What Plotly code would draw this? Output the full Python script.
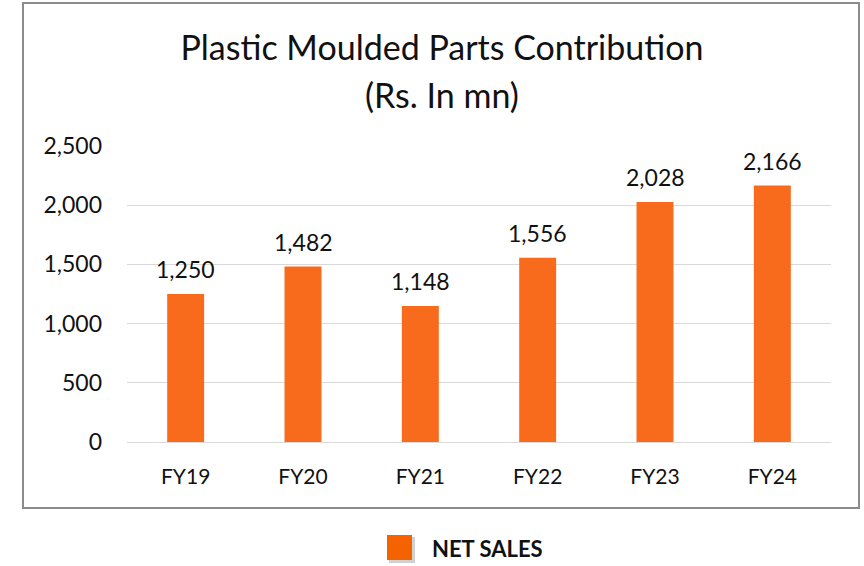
import plotly.graph_objects as go

categories = ["FY19", "FY20", "FY21", "FY22", "FY23", "FY24"]
net_sales = [1250, 1482, 1148, 1556, 2028, 2166]
series_name = "NET SALES"
title_line1 = "Plastic Moulded Parts Contribution"
title_line2 = "(Rs. In mn)"

FONT = "Lato, Calibri, Carlito, sans-serif"
BAR = "#F86A1C"
TXT = "#111111"

L, R, T, B = 127, 33, 146, 124
W, H = 864, 566
PW, PH = W - L - R, H - T - B


def px_x(px):
    return (px - L) / PW


def px_y(py):
    return (H - B - py) / PH


fig = go.Figure()
fig.add_trace(go.Bar(
    x=categories, y=net_sales, name=series_name,
    marker=dict(color=BAR, line=dict(width=0)),
    showlegend=False, hoverinfo="skip",
))

annotations = []
for c, v in zip(categories, net_sales):
    annotations.append(dict(x=c, y=v, xref="x", yref="y", text=f"{v:,}", showarrow=False,
                            yanchor="bottom", yshift=9,
                            font=dict(size=23, family=FONT, color=TXT)))
# second title line
annotations.append(dict(x=px_x(442), y=px_y(94), xref="paper", yref="paper", text=title_line2,
                        showarrow=False, xanchor="center", yanchor="middle",
                        font=dict(size=34, family=FONT, color=TXT)))
# legend text
annotations.append(dict(x=px_x(430), y=px_y(548), xref="paper", yref="paper", text="<b>" + series_name + "</b>",
                        showarrow=False, xanchor="left", yanchor="middle",
                        font=dict(size=22, family=FONT, color=TXT)))

shapes = [
    dict(type="rect", xref="paper", yref="paper", x0=px_x(23), x1=px_x(859), y0=px_y(508), y1=px_y(3),
         line=dict(color="#8C8C8C", width=2), fillcolor="rgba(0,0,0,0)", layer="below"),
    # legend key shadow and key
    dict(type="rect", xref="paper", yref="paper", x0=px_x(389), x1=px_x(415), y0=px_y(563), y1=px_y(537),
         line=dict(width=0), fillcolor="rgba(0,0,0,0.18)", layer="above"),
    dict(type="rect", xref="paper", yref="paper", x0=px_x(387), x1=px_x(412), y0=px_y(560), y1=px_y(535),
         line=dict(width=0), fillcolor="#F56300", layer="above"),
]

fig.update_layout(
    width=W, height=H,
    margin=dict(l=L, r=R, t=T, b=B, autoexpand=False),
    paper_bgcolor="white", plot_bgcolor="white",
    font=dict(family=FONT, color=TXT),
    bargap=0.685,
    showlegend=False,
    title=dict(text=title_line1, x=442 / W, xanchor="center", xref="container",
               y=1 - 48 / H, yanchor="middle", yref="container",
               font=dict(size=34, family=FONT, color=TXT)),
    xaxis=dict(showgrid=False, showline=False, ticks="", automargin=False,
               tickfont=dict(size=21, family=FONT, color=TXT), ticklabelstandoff=20),
    yaxis=dict(range=[0, 2500], dtick=500, tickformat=",", showgrid=True, gridcolor="#D9D9D9", gridwidth=1,
               zeroline=True, zerolinecolor="#D9D9D9", zerolinewidth=1, showline=False, ticks="",
               automargin=False, tickfont=dict(size=23, family=FONT, color=TXT), ticklabelstandoff=24),
    annotations=annotations,
    shapes=shapes,
)

fig.write_html("out.html", config={"displayModeBar": False},
               post_script="document.body.style.margin='0px';document.body.style.overflow='hidden';")
